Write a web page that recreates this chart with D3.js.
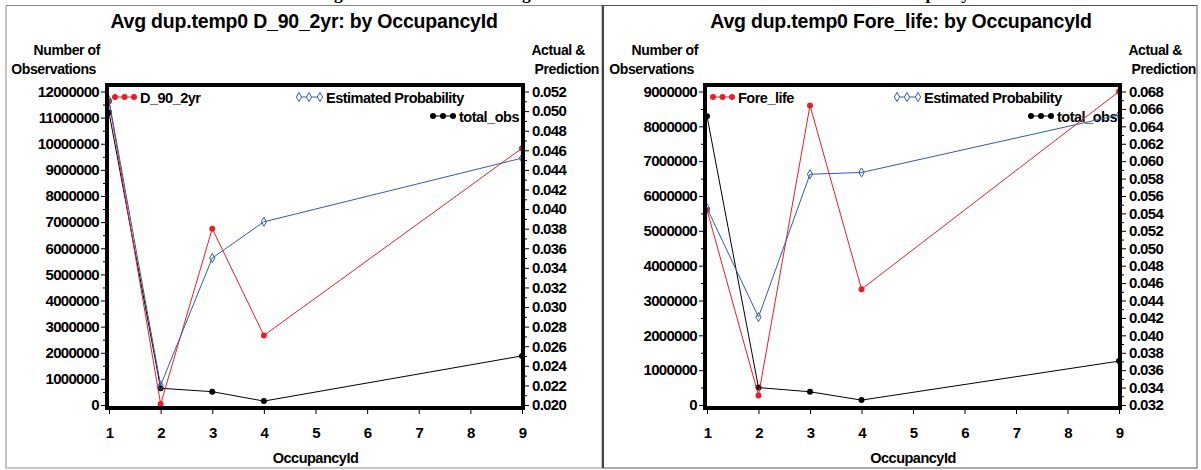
<!DOCTYPE html>
<html>
<head>
<meta charset="utf-8">
<script src="https://cdn.jsdelivr.net/npm/d3@7"></script>
<style>
  html, body { margin: 0; padding: 0; background: #fff; }
  svg { display: block; }
  text { font-family: "Liberation Sans", Arial, Helvetica, sans-serif; font-weight: bold; fill: #000; }
</style>
</head>
<body>
<svg id="chart" width="1201" height="470"></svg>
<script>
// Occupancy categories shown on the x axis
const occupancy = [1, 2, 3, 4, 9];
const xTickValues = [1, 2, 3, 4, 5, 6, 7, 8, 9];

// Panel 1: D_90_2yr
const d90Actual    = [0.0510, 0.0201, 0.0380, 0.0271, 0.0462];
const d90Estimated = [0.0511, 0.0220, 0.0350, 0.0387, 0.0452];
const d90TotalObs  = [11200000, 640000, 510000, 150000, 1880000];
const d90CountTicks = [0, 1000000, 2000000, 3000000, 4000000, 5000000, 6000000,
                       7000000, 8000000, 9000000, 10000000, 11000000, 12000000];
const d90RateTicks  = [0.020, 0.022, 0.024, 0.026, 0.028, 0.030, 0.032, 0.034, 0.036,
                       0.038, 0.040, 0.042, 0.044, 0.046, 0.048, 0.050, 0.052];

// Panel 2: Fore_life
const foreActual    = [0.0544, 0.0331, 0.0664, 0.0453, 0.0680];
const foreEstimated = [0.0546, 0.0421, 0.0585, 0.0587, 0.0653];
const foreTotalObs  = [8290000, 500000, 380000, 140000, 1260000];
const foreCountTicks = [0, 1000000, 2000000, 3000000, 4000000, 5000000, 6000000,
                        7000000, 8000000, 9000000];
const foreRateTicks  = [0.032, 0.034, 0.036, 0.038, 0.040, 0.042, 0.044, 0.046, 0.048,
                        0.050, 0.052, 0.054, 0.056, 0.058, 0.060, 0.062, 0.064, 0.066, 0.068];

const RED = "#ee1c25", BLUE = "#2f5caf", BLACK = "#000";

const svg = d3.select("#chart");

// Page heading above the panels (mostly outside the visible page)
const heading = svg.append("text")
  .attr("x", 0).attr("y", -1)
  .style("font-family", "'Liberation Serif', 'Times New Roman', serif")
  .style("font-size", "18px")
  .text("Average Actual Rate and Average Estimated Rate of Both Models Shown Across Occupancy");
(function placeHeading() {
  const s = heading.text();
  const g1 = s.indexOf("g");
  const p1 = s.indexOf("pancy");
  const node = heading.node();
  let a = node.getStartPositionOfChar(g1).x, b = node.getStartPositionOfChar(p1).x;
  const fs = 18 * (592 / (b - a));
  heading.style("font-size", fs + "px");
  a = node.getStartPositionOfChar(g1).x;
  heading.attr("x", 334 - a);
})();

// Panel borders
svg.append("rect").attr("x", 6).attr("y", 5.5).attr("width", 596).attr("height", 462.5)
  .attr("fill", "none").attr("stroke", "#8a8a8a").attr("stroke-width", 1);
svg.append("rect").attr("x", 603).attr("y", 5.5).attr("width", 594).attr("height", 462.5)
  .attr("fill", "none").attr("stroke", "#555").attr("stroke-width", 1);
svg.append("line").attr("x1", 603).attr("x2", 603).attr("y1", 5).attr("y2", 468)
  .attr("stroke", "#444").attr("stroke-width", 2);

function styleTickText(a) {
  a.selectAll("text").style("font-size", "15px").style("letter-spacing", "-0.7px")
    .style("font-family", "'Liberation Sans', Arial, sans-serif").style("font-weight", "bold");
}

function drawPanel(cfg) {
  const g = svg.append("g");
  const x = d3.scaleLinear().domain([1, 9]).range([cfg.x0, cfg.x1]);
  const yCount = d3.scaleLinear().domain(d3.extent(cfg.countTicks)).range([405, 91.5]);
  const yRate = d3.scaleLinear().domain(d3.extent(cfg.rateTicks)).range([405, 91.5]);
  const frameL = cfg.x0 - 2, frameR = cfg.x1 + 1, frameT = 85, frameB = 408;

  // Title and axis headings
  g.append("text").attr("x", cfg.titleX).attr("y", 28).attr("text-anchor", "middle")
    .style("font-size", "19.5px").style("letter-spacing", "-0.2px").text(cfg.title);
  g.append("text").attr("x", cfg.leftHeadX).attr("y", 55).attr("text-anchor", "end")
    .style("font-size", "14px").style("letter-spacing", "-0.4px").text("Number of");
  g.append("text").attr("x", cfg.leftHeadX - 4).attr("y", 74).attr("text-anchor", "end")
    .style("font-size", "14px").style("letter-spacing", "-0.4px").text("Observations");
  g.append("text").attr("x", cfg.rightHeadX - 14).attr("y", 55).attr("text-anchor", "end")
    .style("font-size", "14px").style("letter-spacing", "-0.4px").text("Actual &");
  g.append("text").attr("x", cfg.rightHeadX).attr("y", 74).attr("text-anchor", "end")
    .style("font-size", "14px").style("letter-spacing", "-0.4px").text("Prediction");

  // Left axis: counts
  const countMinor = cfg.countTicks.slice(1).map((v, i) => (v + cfg.countTicks[i]) / 2);
  g.append("g").attr("transform", `translate(${frameL - 1},0)`)
    .call(d3.axisLeft(yCount).tickValues(cfg.countTicks).tickSize(5).tickPadding(2)
      .tickFormat(d3.format("d")))
    .call(a => a.select(".domain").remove())
    .call(styleTickText);
  g.append("g").attr("transform", `translate(${frameL - 1},0)`)
    .call(d3.axisLeft(yCount).tickValues(countMinor).tickSize(3).tickFormat(""))
    .call(a => a.select(".domain").remove());

  // Right axis: rates
  const rateMinor = cfg.rateTicks.slice(1).map((v, i) => (v + cfg.rateTicks[i]) / 2);
  g.append("g").attr("transform", `translate(${frameR + 1},0)`)
    .call(d3.axisRight(yRate).tickValues(cfg.rateTicks).tickSize(5).tickPadding(3)
      .tickFormat(d3.format(".3f")))
    .call(a => a.select(".domain").remove())
    .call(styleTickText);
  g.append("g").attr("transform", `translate(${frameR + 1},0)`)
    .call(d3.axisRight(yRate).tickValues(rateMinor).tickSize(3).tickFormat(""))
    .call(a => a.select(".domain").remove());

  // Bottom axis
  g.append("g").attr("transform", `translate(0,${frameB + 1})`)
    .call(d3.axisBottom(x).tickValues(xTickValues).tickSize(5).tickPadding(13)
      .tickFormat(d3.format("d")))
    .call(a => a.select(".domain").remove())
    .call(styleTickText);
  g.append("text").attr("x", (cfg.x0 + cfg.x1) / 2).attr("y", 463).attr("text-anchor", "middle")
    .style("font-size", "14.5px").style("letter-spacing", "-0.5px").text("OccupancyId");

  // Legend
  const leg = g.append("g");
  function legendEntry(xs, y, label, color, kind) {
    leg.append("line").attr("x1", xs[0]).attr("x2", xs[2]).attr("y1", y).attr("y2", y)
      .attr("stroke", color).attr("stroke-width", 1);
    xs.forEach(px => {
      if (kind === "diamond") {
        leg.append("path").attr("d", d3.symbol(d3.symbolDiamond, 24)())
          .attr("transform", `translate(${px},${y})`)
          .attr("fill", "#fff").attr("stroke", color).attr("stroke-width", 1);
      } else {
        leg.append("circle").attr("cx", px).attr("cy", y).attr("r", 3).attr("fill", color);
      }
    });
    leg.append("text").attr("x", xs[2] + 6).attr("y", y + 5.5)
      .style("font-size", "14.5px").style("letter-spacing", "-0.5px").text(label);
  }
  const lx = cfg.x0;
  legendEntry([lx + 6, lx + 15.5, lx + 25], 97, cfg.seriesName, RED, "dot");
  legendEntry([lx + 190, lx + 200, lx + 211], 97, "Estimated  Probability", BLUE, "diamond");
  legendEntry([lx + 324, lx + 334, lx + 344], 116, "total_obs", BLACK, "dot");

  // Series lines and markers
  const plot = g.append("g");
  function series(values, yS, color, kind) {
    const pts = occupancy.map((o, i) => [x(o), yS(values[i])]);
    plot.append("path").attr("d", d3.line()(pts)).attr("fill", "none")
      .attr("stroke", color).attr("stroke-width", 1);
    pts.forEach(p => {
      if (kind === "diamond") {
        plot.append("path").attr("d", d3.symbol(d3.symbolDiamond, 24)())
          .attr("transform", `translate(${p[0]},${p[1]})`)
          .attr("fill", "none").attr("stroke", color).attr("stroke-width", 1);
      } else {
        plot.append("circle").attr("cx", p[0]).attr("cy", p[1]).attr("r", 3).attr("fill", color);
      }
    });
  }
  series(cfg.totalObs, yCount, BLACK, "dot");
  series(cfg.actual, yRate, RED, "dot");
  series(cfg.estimated, yRate, BLUE, "diamond");

  // Heavy plot frame
  g.append("rect").attr("x", frameL).attr("y", frameT)
    .attr("width", frameR - frameL).attr("height", frameB - frameT)
    .attr("fill", "none").attr("stroke", "#000").attr("stroke-width", 4);
}

drawPanel({
  title: "Avg dup.temp0 D_90_2yr: by OccupancyId",
  seriesName: "D_90_2yr",
  x0: 109, x1: 522, titleX: 304, leftHeadX: 100, rightHeadX: 599,
  countTicks: d90CountTicks, rateTicks: d90RateTicks,
  actual: d90Actual, estimated: d90Estimated, totalObs: d90TotalObs
});
drawPanel({
  title: "Avg dup.temp0 Fore_life: by OccupancyId",
  seriesName: "Fore_life",
  x0: 707, x1: 1119, titleX: 901, leftHeadX: 698, rightHeadX: 1196,
  countTicks: foreCountTicks, rateTicks: foreRateTicks,
  actual: foreActual, estimated: foreEstimated, totalObs: foreTotalObs
});
</script>
</body>
</html>
